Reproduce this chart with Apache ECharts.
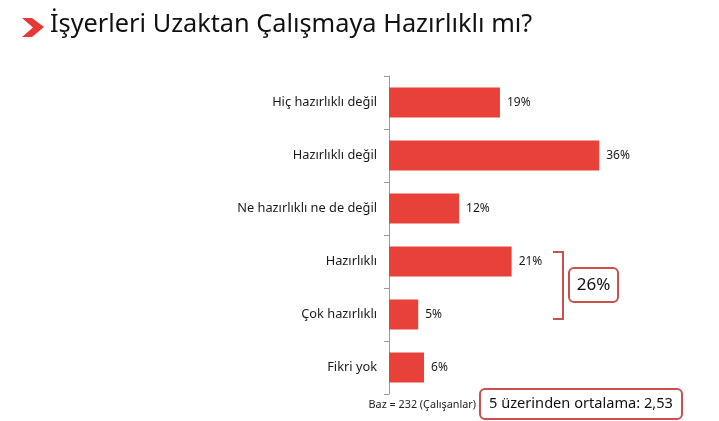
<!DOCTYPE html>
<html>
<head>
<meta charset="utf-8">
<script src="https://cdn.jsdelivr.net/npm/echarts@6/dist/echarts.min.js"></script>
<style>
html,body{margin:0;padding:0;background:#fff;}
#c{width:719px;height:421px;}
</style>
</head>
<body>
<div id="c"></div>
<script>
var title = 'İşyerleri Uzaktan Çalışmaya Hazırlıklı mı?';
var categories = ['Hiç hazırlıklı değil', 'Hazırlıklı değil', 'Ne hazırlıklı ne de değil', 'Hazırlıklı', 'Çok hazırlıklı', 'Fikri yok'];
var values = [19, 36, 12, 21, 5, 6];
var groupTotal = '26%';
var baseNote = 'Baz = 232 (Çalışanlar)';
var averageNote = '5 üzerinden ortalama: 2,53';

var FONT = 'Noto Sans';
var RED = '#E8413A';
var BOX = '#C9504F';

var chart = echarts.init(document.getElementById('c'));
chart.setOption({
  backgroundColor: '#fff',
  animation: false,
  textStyle: { fontFamily: FONT },
  grid: { left: 389, top: 76, width: 233.6, height: 318 },
  xAxis: {
    type: 'value', min: 0, max: 40,
    show: false
  },
  yAxis: {
    type: 'category', data: categories, inverse: true,
    axisLine: { show: true, lineStyle: { color: '#9a9a9a', width: 1 } },
    axisTick: { show: true, length: 5, lineStyle: { color: '#9a9a9a' } },
    axisLabel: { margin: 12, fontSize: 12.8, color: '#1a1a1a', fontFamily: FONT }
  },
  series: [{
    type: 'bar', data: values, barWidth: 30,
    itemStyle: { color: RED },
    label: { show: true, position: 'right', distance: 7, formatter: '{c}%', fontSize: 12, color: '#1a1a1a', fontFamily: FONT }
  }],
  graphic: [
    { type: 'polygon', shape: { points: [[22,18],[32,18],[44,27],[32,37],[22,37],[33,27.5]] }, style: { fill: '#E53935' } },
    { type: 'text', left: 50, top: 12, style: { text: title, font: '25.3px "' + FONT + '"', fill: '#111' } },
    { type: 'polyline', shape: { points: [[553,252],[563,252],[563,319],[553,319]] }, style: { stroke: BOX, lineWidth: 2, fill: null } },
    { type: 'rect', shape: { x: 569, y: 268, width: 49, height: 34, r: 5 }, style: { stroke: BOX, lineWidth: 2, fill: '#fff' } },
    { type: 'text', x: 593.5, y: 285, style: { text: groupTotal, font: '17px "' + FONT + '"', fill: '#111', textAlign: 'center', textVerticalAlign: 'middle' } },
    { type: 'text', x: 476, y: 405, style: { text: baseNote, font: '10.8px "' + FONT + '"', fill: '#222', textAlign: 'right', textVerticalAlign: 'middle' } },
    { type: 'rect', shape: { x: 480, y: 389, width: 202, height: 30, r: 5 }, style: { stroke: BOX, lineWidth: 2, fill: '#fff' } },
    { type: 'text', x: 581, y: 404, style: { text: averageNote, font: '14.6px "' + FONT + '"', fill: '#111', textAlign: 'center', textVerticalAlign: 'middle' } }
  ]
});
</script>
</body>
</html>
